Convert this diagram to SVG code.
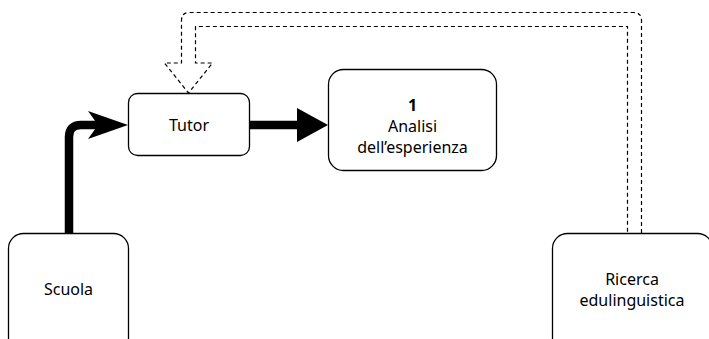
<svg xmlns="http://www.w3.org/2000/svg" width="709" height="339" viewBox="0 0 709 339">
<style>
.box{fill:#fff;stroke:#000;stroke-width:1.3}
.lbl{font-family:"Noto Sans","Open Sans",sans-serif;font-size:16px;fill:#000;text-anchor:middle}
.thick{fill:none;stroke:#000;stroke-width:8.5}
.flex{fill:none;stroke:#000;stroke-width:1.2;stroke-dasharray:4 3}
</style>
<rect width="709" height="339" fill="#fff"/>
<g id="connectors">
<path class="thick" d="M69,233 V137 Q69,125 81,125 H98"/>
<polygon points="128,125 88,111 98,125 88,139" fill="#000"/>
<path class="thick" d="M249,125 H298"/>
<polygon points="328,125 297,108 297,142" fill="#000"/>
<path class="flex" d="M641.5,233 V20.5 Q641.5,12.5 633.5,12.5 H189.5 Q181.5,12.5 181.5,20.5 V63 H164.5 L188.5,93 L212.5,63 H195.5 V26.5 H627.5 V233"/>
</g>
<g id="tutor">
<rect class="box" x="128.5" y="93.5" width="121" height="62" rx="9"/>
<text class="lbl" x="189" y="131">Tutor</text>
</g>
<g id="analisi">
<rect class="box" x="328.5" y="69.5" width="168" height="101" rx="15"/>
<text class="lbl" x="412.5" y="111" font-weight="bold">1</text>
<text class="lbl" x="412.5" y="132">Analisi</text>
<text class="lbl" x="412.5" y="153">dell’esperienza</text>
</g>
<g id="scuola">
<rect class="box" x="8.5" y="233.5" width="120" height="120" rx="15"/>
<text class="lbl" x="68.5" y="295">Scuola</text>
</g>
<g id="ricerca">
<rect class="box" x="552.5" y="233.5" width="160" height="120" rx="15"/>
<text class="lbl" x="632" y="285">Ricerca</text>
<text class="lbl" x="632" y="306">edulinguistica</text>
</g>
</svg>
